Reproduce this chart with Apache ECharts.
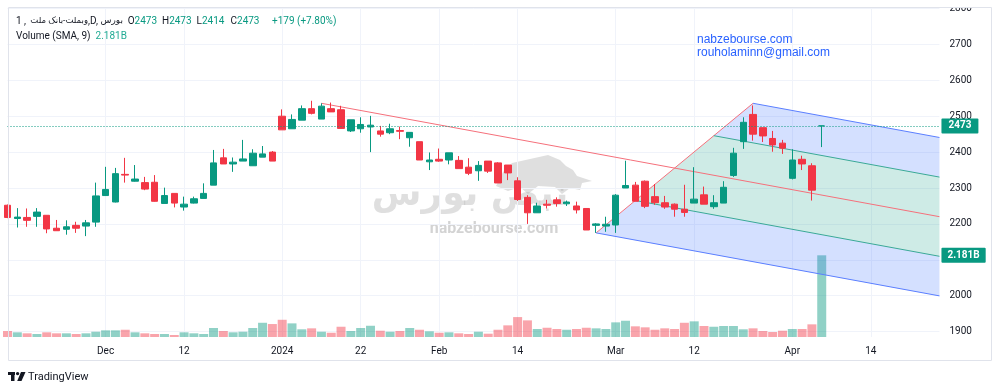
<!DOCTYPE html>
<html><head><meta charset="utf-8">
<script src="https://cdn.jsdelivr.net/npm/echarts@6/dist/echarts.min.js"></script>
<style>html,body{margin:0;padding:0;background:#fff}#c{width:1000px;height:392px}</style>
</head><body><div id="c"></div>
<script>
// ---- data ----
const opens  = [2252,2215,2218,2221,2224,2188,2185,2196,2194,2205,2279,2261,2338,2319,2315,2316,2257,2285,2247,2258,
                2271,2308,2384,2367,2375,2362,2386,2400,2500,2465,2489,2521,2492,2521,2518,2459,2465,2470,2459,2454,
                2460,2440,2429,2373,2380,2378,2377,2358,2348,2375,2370,2364,2320,2274,2231,2255,2267,2256,2250,2243,
                2196,2194,2197,2300,2308,2319,2276,2259,2255,2241,2258,2281,2248,2258,2335,2429,2505,2468,2438,2425,
                2327,2380,2362,2473];
const closes = [2218,2219,2210,2233,2186,2181,2192,2188,2203,2278,2296,2340,2336,2325,2297,2263,2279,2258,2255,2270,
                2285,2370,2367,2372,2381,2397,2395,2375,2462,2491,2521,2508,2528,2512,2466,2490,2477,2475,2450,2465,
                2458,2455,2378,2378,2375,2398,2354,2341,2363,2347,2314,2342,2268,2231,2250,2252,2257,2261,2239,2183,
                2200,2199,2280,2307,2263,2249,2259,2247,2241,2232,2269,2255,2259,2302,2397,2483,2450,2445,2420,2411,
                2378,2367,2294,2473];
const lows   = [2216,2190,2192,2192,2174,2181,2170,2175,2166,2192,2278,2260,2315,2318,2294,2262,2257,2246,2237,2257,
                2271,2308,2367,2345,2375,2362,2386,2375,2462,2465,2489,2505,2492,2512,2466,2456,2454,2400,2443,2450,
                2436,2415,2378,2350,2373,2366,2354,2336,2320,2342,2314,2322,2264,2200,2231,2243,2248,2250,2229,2183,
                2175,2178,2175,2300,2263,2244,2253,2242,2220,2220,2258,2255,2242,2258,2331,2409,2432,2428,2401,2395,
                2324,2350,2265,2414];
const highs  = [2254,2244,2243,2244,2224,2211,2210,2206,2211,2315,2359,2356,2384,2364,2331,2336,2301,2285,2276,2276,
                2313,2406,2409,2385,2434,2408,2417,2403,2519,2505,2530,2543,2536,2538,2529,2490,2497,2501,2473,2479,
                2471,2455,2429,2399,2410,2398,2389,2383,2375,2375,2372,2364,2330,2280,2259,2267,2274,2265,2262,2243,
                2202,2220,2283,2376,2317,2321,2311,2278,2257,2309,2358,2304,2280,2319,2412,2497,2530,2468,2459,2434,
                2408,2390,2369,2473];
// volume in millions
const volumes = [160,125,98,80,125,98,98,80,98,141,178,178,194,125,98,80,80,53,125,98,
                 80,240,160,125,141,240,380,346,460,364,205,231,141,114,274,160,240,300,168,141,
                 160,240,194,152,114,125,98,80,141,88,194,311,532,444,213,247,213,194,213,247,
                 231,213,391,434,285,258,194,231,213,380,418,293,274,293,293,205,231,160,133,168,
                 213,213,338,2181];
const tickIndex  = [10,18,28,36,44,52,62,70,80,88];
const tickLabels = ['Dec','12','2024','22','Feb','14','Mar','12','Apr','14'];
const priceTicks = [1900,2000,2100,2200,2300,2400,2500,2600,2700,2800];
// pitchfork anchor points [bar index, price]
const pitchA = [32, 2536];
const pitchB = [60, 2175];
const pitchC = [76, 2536];

// ---- constants ----
const UP = '#089981', DOWN = '#f23645';
const FONT = 'Roboto, "DejaVu Sans", sans-serif';
const X_MAX = 95;
const n = opens.length;
const last = n - 1;

const candleData = opens.map((o, i) => [i, o, closes[i], lows[i], highs[i]]);
const volData = volumes.map((v, i) => ({
  value: [i, v],
  itemStyle: { color: closes[i] >= opens[i] ? 'rgba(8,153,129,0.45)' : 'rgba(242,54,69,0.45)' }
}));

// pitchfork geometry
const mid = [(pitchB[0] + pitchC[0]) / 2, (pitchB[1] + pitchC[1]) / 2];
const slope = (mid[1] - pitchA[1]) / (mid[0] - pitchA[0]);
const endOf = p => [X_MAX, p[1] + slope * (X_MAX - p[0])];
const G1 = [pitchC[0] + 0.25 * (pitchB[0] - pitchC[0]), pitchC[1] + 0.25 * (pitchB[1] - pitchC[1])];
const G2 = [pitchC[0] + 0.75 * (pitchB[0] - pitchC[0]), pitchC[1] + 0.75 * (pitchB[1] - pitchC[1])];
const polys = [
  { pts: [pitchC, endOf(pitchC), endOf(G1), G1], fill: 'rgba(41,98,255,0.2)' },
  { pts: [G1, endOf(G1), endOf(G2), G2], fill: 'rgba(8,153,129,0.2)' },
  { pts: [G2, endOf(G2), endOf(pitchB), pitchB], fill: 'rgba(41,98,255,0.2)' }
];
const pLines = [
  { pts: [pitchA, endOf(pitchA)], color: '#f5707b' },
  { pts: [pitchB, pitchC], color: '#f5707b' },
  { pts: [pitchC, endOf(pitchC)], color: '#5b7fff' },
  { pts: [pitchB, endOf(pitchB)], color: '#5b7fff' },
  { pts: [G1, endOf(G1)], color: '#3aa997' },
  { pts: [G2, endOf(G2)], color: '#3aa997' }
];

const chg = closes[last] - closes[last - 1];
const pct = chg / closes[last - 1] * 100;
const volLabel = (volumes[last] / 1000).toFixed(3) + 'B';

const lineSeries = pLines.map(l => ({
  type: 'line', data: l.pts, symbol: 'none', silent: true, z: 2,
  lineStyle: { color: l.color, width: 1 }, animation: false
}));

const tTxt = (text, x, align, size) => ({
  type: 'text', x: x, y: 21, z: 102, silent: true,
  style: { text: text, fontSize: size || 10, fontFamily: FONT, fill: '#131722', verticalAlign: 'middle', align: align || 'left' }
});

const chart = echarts.init(document.getElementById('c'));
chart.setOption({
  animation: false,
  textStyle: { fontFamily: FONT },
  grid: { left: 7.5, right: 60.55, top: 8, bottom: 55, containLabel: false, outerBoundsMode: 'none' },
  xAxis: {
    type: 'value', min: 0, max: X_MAX,
    axisLine: { show: false },
    axisTick: { show: false, customValues: tickIndex },
    axisLabel: {
      customValues: tickIndex, color: '#131722', fontSize: 10, margin: 9,
      formatter: v => { const k = tickIndex.indexOf(v); return k >= 0 ? tickLabels[k] : ''; }
    },
    splitLine: { show: true, lineStyle: { color: '#f0f3fa', width: 1 } }
  },
  yAxis: [
    {
      type: 'value', position: 'right', min: 1885, max: 2801.4,
      axisLine: { show: false },
      axisTick: { show: false, customValues: priceTicks },
      axisLabel: { customValues: priceTicks, color: '#131722', fontSize: 10, margin: 10, formatter: v => String(v) },
      splitLine: { show: true, lineStyle: { color: '#f0f3fa', width: 1 } }
    },
    { type: 'value', min: 0, max: 8783, show: false, splitLine: { show: false } }
  ],
  series: [
    {
      type: 'bar', yAxisIndex: 1, data: volData, barWidth: 9, z: 1, silent: true,
      markLine: {
        symbol: ['none', 'none'], silent: true,
        lineStyle: { color: 'rgba(0,0,0,0)', width: 1 },
        label: {
          show: true, position: 'end', distance: 2, formatter: volLabel, color: '#fff', fontSize: 10, fontWeight: 'bold',
          backgroundColor: UP, padding: [2, 6, 1, 6], lineHeight: 12, borderRadius: 1
        },
        data: [{ yAxis: volumes[last] }]
      }
    },
    {
      type: 'custom', z: 2, silent: true,
      data: polys.map(p => p.pts[0]),
      renderItem: (params, api) => {
        const p = polys[params.dataIndex];
        return { type: 'polygon', shape: { points: p.pts.map(q => api.coord(q)) }, style: { fill: p.fill } };
      }
    },
    ...lineSeries,
    {
      type: 'candlestick', data: candleData, encode: { x: 0, y: [1, 2, 3, 4] }, barWidth: 7, z: 3, silent: true,
      itemStyle: { color: UP, color0: DOWN, borderColor: UP, borderColor0: DOWN, borderWidth: 1 },
      markLine: {
        symbol: ['none', 'none'], silent: true,
        lineStyle: { color: UP, type: [1, 2], width: 1 },
        label: {
          position: 'end', distance: 2, formatter: String(closes[last]), color: '#fff', fontSize: 10, fontWeight: 'bold',
          backgroundColor: UP, padding: [2, 7, 1, 7], lineHeight: 12, borderRadius: 1
        },
        data: [{ yAxis: closes[last] }]
      }
    }
  ],
  graphic: [
    // watermark
    { type: 'polygon', z: 0, silent: true,
      shape: { points: [[496,186],[503,172],[512,163],[530,159],[548,155],[560,160],[566,166],[573,170],[577,176],[592,181],[582,183],[580,190],[570,188],[562,194],[555,187],[538,186],[528,194],[520,187],[508,191]] },
      style: { fill: 'rgba(150,150,150,0.3)' } },
    { type: 'text', x: 470, y: 196, z: 0, silent: true,
      style: { text: 'نبض بورس', fontSize: 36, fontWeight: 'bold', fontFamily: '"DejaVu Sans", sans-serif', fill: 'rgba(150,150,150,0.3)', align: 'center', verticalAlign: 'middle' } },
    { type: 'text', x: 494, y: 229, z: 0, silent: true,
      style: { text: 'nabzebourse.com', fontSize: 16, fontWeight: 'bold', fontFamily: FONT, fill: 'rgba(150,150,150,0.42)', align: 'center', verticalAlign: 'middle' } },
    // cover / frame
    { type: 'rect', z: 100, silent: true, shape: { x: 0, y: 0, width: 1000, height: 7.5 }, style: { fill: '#fff' } },
    { type: 'rect', z: 101, silent: true, shape: { x: 8.5, y: 7.5, width: 983, height: 353 }, style: { fill: 'none', stroke: '#e0e3eb', lineWidth: 1 } },
    // legend title, pieces laid out in their on-screen order
    tTxt('1 ,', 16),
    tTxt('وبملت-بانک ملت', 88, 'right', 8.5),
    tTxt(',D,', 88),
    tTxt('بورس', 123, 'right', 9),
    ...[['O', opens[last], 127.7], ['H', highs[last], 162], ['L', lows[last], 196.5], ['C', closes[last], 230.5]].map(g => ({
      type: 'text', x: g[2], y: 21, z: 102, silent: true,
      style: { text: '{k|' + g[0] + '}{v|' + g[1] + '}', fontSize: 10, fontFamily: FONT, verticalAlign: 'middle',
        rich: { k: { fill: '#131722', fontSize: 10, fontFamily: FONT }, v: { fill: UP, fontSize: 10, fontFamily: FONT } } }
    })),
    { type: 'text', x: 272, y: 21, z: 102, silent: true,
      style: { text: '+' + chg + ' (+' + pct.toFixed(2) + '%)', fontSize: 10, fontFamily: FONT, fill: UP, verticalAlign: 'middle' } },
    { type: 'text', x: 16, y: 36, z: 102, silent: true,
      style: { text: '{k|Volume (SMA, 9)}  {v|' + volLabel + '}', fontSize: 10, fontFamily: FONT, verticalAlign: 'middle',
        rich: { k: { fill: '#131722', fontSize: 10, fontFamily: FONT }, v: { fill: '#22ab94', fontSize: 10, fontFamily: FONT } } } },
    // top-right links
    { type: 'text', x: 697, y: 40, z: 102, silent: true,
      style: { text: 'nabzebourse.com', fontSize: 12, fontFamily: '"Liberation Sans", Arial, sans-serif', fill: '#2962ff', verticalAlign: 'middle' } },
    { type: 'text', x: 697, y: 53, z: 102, silent: true,
      style: { text: 'rouholaminn@gmail.com', fontSize: 12, fontFamily: '"Liberation Sans", Arial, sans-serif', fill: '#2962ff', verticalAlign: 'middle' } },
    // TradingView logo
    { type: 'rect', z: 102, silent: true, shape: { x: 8, y: 372, width: 7, height: 3 }, style: { fill: '#131722' } },
    { type: 'rect', z: 102, silent: true, shape: { x: 11, y: 372, width: 3.5, height: 9 }, style: { fill: '#131722' } },
    { type: 'circle', z: 102, silent: true, shape: { cx: 17.6, cy: 373.6, r: 1.7 }, style: { fill: '#131722' } },
    { type: 'polygon', z: 102, silent: true, shape: { points: [[21, 372], [25.5, 372], [21.5, 381], [17.2, 381]] }, style: { fill: '#131722' } },
    { type: 'text', x: 28, y: 377, z: 102, silent: true,
      style: { text: 'TradingView', fontSize: 11, fontFamily: FONT, fill: '#131722', verticalAlign: 'middle' } }
  ]
});
</script>
</body></html>
